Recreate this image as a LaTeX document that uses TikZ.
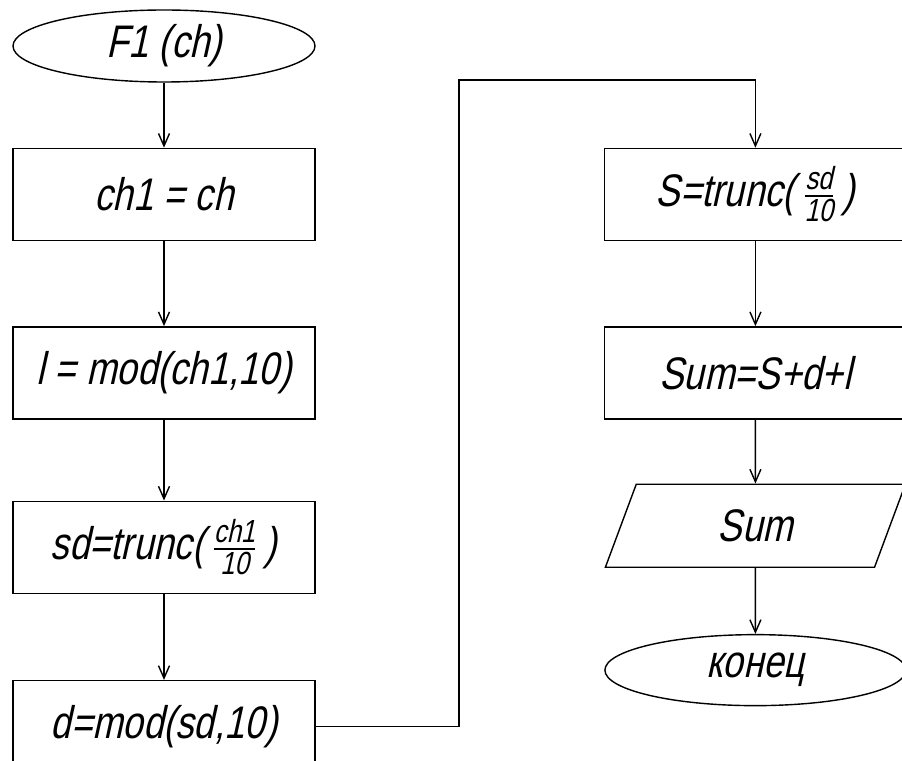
\documentclass[tikz,border=0pt]{standalone}
\usepackage{amsmath}
\usepackage{fontspec}
\setmainfont{Liberation Sans}[FakeSlant=0.22,FakeStretch=0.8]
\usetikzlibrary{positioning,shapes,arrows.meta,calc}
\tikzstyle{block}=[rectangle, draw=black, thick, text centered, minimum width=6.04cm, minimum height=1.84cm, font=\fontsize{26}{28}\selectfont]
\tikzstyle{terminal}=[ellipse, draw=black, thick, text centered, minimum width=6.04cm, minimum height=1.44cm, inner sep=0pt, font=\fontsize{26}{28}\selectfont]
\tikzstyle{io}=[trapezium, trapezium left angle=55, trapezium right angle=125, trapezium stretches body, draw=black, thick, text centered, minimum width=6cm, minimum height=1.66cm, font=\fontsize{26}{28}\selectfont]
\tikzstyle{arrow}=[-{Straight Barb[length=2.5mm,width=2.2mm]}, thick]

\begin{document}
\begin{tikzpicture}
    \clip (0,0) rectangle (18.04,-15.22);
    \useasboundingbox (0,0) rectangle (18.04,-15.22);
        \node[terminal] (start) at (3.28,-0.92) {F1 (ch)};
        \node[block, below=1.3cm of start] (copy) {ch1 = ch};
        \node[block, below=1.7cm of copy] (last) {l = mod(ch1,10)};
        \node[block, below=1.62cm of last] (rest) {sd=trunc(\,$\frac{\text{ch1}}{\text{10}}$\,)};
        \node[block, below=1.72cm of rest] (mid) {d=mod(sd,10)};

        \node[block, right=5.76cm of copy] (first) {S=trunc(\,$\frac{\text{sd}}{\text{10}}$\,)};
        \node[block, below=1.7cm of first] (sum) {Sum=S+d+l};
        \node[io, below=1.28cm of sum] (out) {Sum};
        \node[terminal, below=1.32cm of out, minimum width=6.02cm, minimum height=1.42cm] (stop) {конец};

        \coordinate (turn) at (9.18,-1.6);

        \draw[arrow] (start) -- (copy);
        \draw[arrow] (copy) -- (last);
        \draw[arrow] (last) -- (rest);
        \draw[arrow] (rest) -- (mid);
        \draw[arrow] (mid.east) -| (turn) -| (first.north);
        \draw[arrow] (first) -- (sum);
        \draw[arrow] (sum) -- (out);
        \draw[arrow] (out) -- (stop);
    \end{tikzpicture}
\end{document}
